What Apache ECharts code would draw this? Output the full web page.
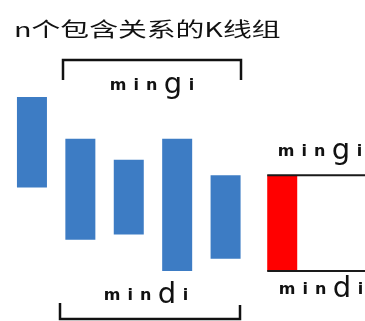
<!DOCTYPE html>
<html><head><meta charset="utf-8">
<script src="https://cdn.jsdelivr.net/npm/echarts@6/dist/echarts.min.js"></script>
<style>html,body{margin:0;padding:0;background:#fff}#c{width:365px;height:321px}</style>
</head><body><div id="c"></div>
<script>
// K-line positions (index along the x axis) and price ranges
const kIndex = [1, 2, 3, 4, 5];
const kHigh  = [100, 76, 64, 76, 55];
const kLow   = [48, 18, 21, 0, 7];
// merged K-line (red) : high = min of highs (mingi), low = min of lows (mindi)
const mergedIndex = [6.17];
const mergedHigh = [55];
const mergedLow  = [0];
const titleText = 'n个包含关系的K线组';

const chart = echarts.init(document.getElementById('c'), null, {renderer: 'canvas'});
const BAR_W = 30;

function barItem(color) {
  return function (params, api) {
    const x = api.value(0), hi = api.value(1), lo = api.value(2);
    const p1 = api.coord([x, hi]);
    const p2 = api.coord([x, lo]);
    return {
      type: 'rect',
      shape: {x: p1[0] - BAR_W / 2, y: p1[1], width: BAR_W, height: p2[1] - p1[1]},
      style: {fill: color}
    };
  };
}

function levelLine(params, api) {
  const x = api.value(0), v = api.value(1);
  const p = api.coord([x, v]);
  const cs = params.coordSys;
  return {
    type: 'line',
    shape: {x1: p[0] - BAR_W / 2, y1: p[1], x2: cs.x + cs.width, y2: p[1]},
    style: {stroke: '#1a1a1a', lineWidth: 2}
  };
}

const blueData = kIndex.map((x, i) => [x, kHigh[i], kLow[i]]);
const redData = mergedIndex.map((x, i) => [x, mergedHigh[i], mergedLow[i]]);
const levelData = [[mergedIndex[0], mergedHigh[0]], [mergedIndex[0], mergedLow[0]]];

const FONT = 'DejaVu Sans';
function richLabel() {
  return {
    s: {fontSize: 16, fontFamily: FONT, fontWeight: 'bold', padding: [0, 3.5], fill: '#111'},
    b: {fontSize: 29, fontFamily: FONT, padding: [0, 3], fill: '#111'}
  };
}
function mtext(x, y, str) {
  return {
    type: 'text', x: x, y: y,
    style: {text: str, rich: richLabel(), align: 'center', verticalAlign: 'bottom'}
  };
}

chart.setOption({
  animation: false,
  grid: {left: 0, right: 0, top: 97, bottom: 50},
  xAxis: {type: 'value', min: 0.34, max: 7.88, show: false},
  yAxis: {type: 'value', min: 0, max: 100, show: false},
  series: [
    {type: 'custom', renderItem: barItem('#3D7CC4'), data: blueData, encode: {x: 0, y: [1, 2]}},
    {type: 'custom', renderItem: barItem('#FF0000'), data: redData, encode: {x: 0, y: [1, 2]}},
    {type: 'custom', renderItem: levelLine, data: levelData, encode: {x: 0, y: 1}, z: 3}
  ],
  graphic: [
    {type: 'text', x: 14, y: 19, scaleX: 1.44,
     style: {text: titleText, fontSize: 20, fontFamily: 'Noto Sans CJK SC', fill: '#111'}},
    {type: 'polyline', shape: {points: [[63, 80], [63, 60], [241, 60], [241, 80]]},
     style: {stroke: '#111', lineWidth: 2.5, fill: null}},
    {type: 'polyline', shape: {points: [[60, 303], [60, 319], [240, 319], [240, 305]]},
     style: {stroke: '#111', lineWidth: 2.5, fill: null}},
    mtext(152, 100, '{s|m}{s|i}{s|n}{b|g}{s|i}'),
    mtext(320, 166, '{s|m}{s|i}{s|n}{b|g}{s|i}'),
    mtext(146, 310, '{s|m}{s|i}{s|n}{b|d}{s|i}'),
    mtext(321, 304, '{s|m}{s|i}{s|n}{b|d}{s|i}')
  ]
});
</script></body></html>
